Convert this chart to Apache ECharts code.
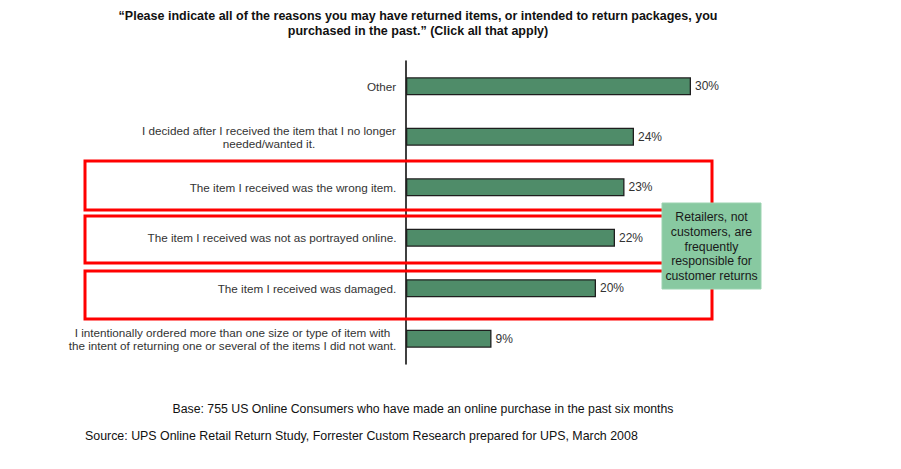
<!DOCTYPE html>
<html>
<head>
<meta charset="utf-8">
<script src="https://cdn.jsdelivr.net/npm/echarts@6/dist/echarts.min.js"></script>
<style>
html,body{margin:0;padding:0;background:#fff;}
#chart{width:901px;height:469px;}
</style>
</head>
<body>
<div id="chart"></div>
<script>
var categories = [
  "Other",
  "I decided after I received the item that I no longer\nneeded/wanted it.",
  "The item I received was the wrong item.",
  "The item I received was not as portrayed online.",
  "The item I received was damaged.",
  "I intentionally ordered more than one size or type of item with\nthe intent of returning one or several of the items I did not want."
];
var values = [30, 24, 23, 22, 20, 9];
var titleLines = [
  "\u201cPlease indicate all of the reasons you may have returned items, or intended to return packages, you",
  "purchased in the past.\u201d (Click all that apply)"
];
var calloutText = "Retailers, not\ncustomers, are\nfrequently\nresponsible for\ncustomer returns";
var baseNote = "Base: 755 US Online Consumers who have made an online purchase in the past six months";
var sourceNote = "Source: UPS Online Retail Return Study, Forrester Custom Research prepared for UPS, March 2008";

var FONT = "'Liberation Sans', Arial, sans-serif";
var LABEL_SIZE = 11.7;
var ctx = document.createElement('canvas').getContext('2d');
ctx.font = LABEL_SIZE + 'px ' + FONT;
var rich = {};
categories.forEach(function (c, i) {
  var w = 0;
  c.split('\n').forEach(function (l) { w = Math.max(w, ctx.measureText(l).width); });
  rich['r' + i] = {width: Math.ceil(w) + 1, align: 'center', color: '#333', fontSize: LABEL_SIZE, fontFamily: FONT, lineHeight: 13};
});

var chart = echarts.init(document.getElementById('chart'), null, {renderer: 'svg'});
var red = '#ff0000';
chart.setOption({
  animation: false,
  backgroundColor: '#ffffff',
  grid: {left: 406, right: 210, top: 61, bottom: 105, containLabel: false},
  xAxis: {type: 'value', min: 0, max: 30, show: false},
  yAxis: {
    type: 'category', data: categories, inverse: true,
    axisLine: {show: true, lineStyle: {color: '#000', width: 1.5}},
    axisTick: {show: false},
    axisLabel: {
      color: '#333', fontSize: LABEL_SIZE, fontFamily: FONT, margin: 9, align: 'right', lineHeight: 13,
      formatter: function (v, i) {
        return v.split('\n').map(function (l) { return '{r' + i + '|' + l + '}'; }).join('\n');
      },
      rich: rich
    }
  },
  series: [{
    type: 'bar', data: values, barWidth: 18,
    itemStyle: {color: '#4f8c69', borderColor: '#1e1e1e', borderWidth: 1.3},
    label: {show: true, position: 'right', distance: 4, formatter: '{c}%', color: '#333', fontSize: 12, fontFamily: FONT}
  }],
  graphic: [
    {type: 'text', x: 418, y: 8, style: {text: titleLines.join('\n'), textAlign: 'center', fill: '#111', font: 'bold 12.5px ' + FONT, lineHeight: 15}, z: 10},
    {type: 'rect', shape: {x: 85, y: 161, width: 627, height: 49}, style: {fill: 'none', stroke: red, lineWidth: 3}, z: 5},
    {type: 'rect', shape: {x: 85, y: 216, width: 627, height: 47}, style: {fill: 'none', stroke: red, lineWidth: 3}, z: 5},
    {type: 'rect', shape: {x: 85, y: 271, width: 627, height: 48}, style: {fill: 'none', stroke: red, lineWidth: 3}, z: 5},
    {type: 'rect', shape: {x: 662, y: 203, width: 99, height: 86}, style: {fill: '#88c9a1', stroke: '#9bd3b0', lineWidth: 1}, z: 20},
    {type: 'text', x: 711.5, y: 210, style: {text: calloutText, textAlign: 'center', fill: '#1a1a1a', font: '12.3px ' + FONT, lineHeight: 14.7}, z: 21},
    {type: 'text', x: 423, y: 403, style: {text: baseNote, textAlign: 'center', fill: '#111', font: '12.3px ' + FONT}, z: 10},
    {type: 'text', x: 85, y: 430, style: {text: sourceNote, textAlign: 'left', fill: '#111', font: '12.4px ' + FONT}, z: 10}
  ]
});
</script>
</body>
</html>
